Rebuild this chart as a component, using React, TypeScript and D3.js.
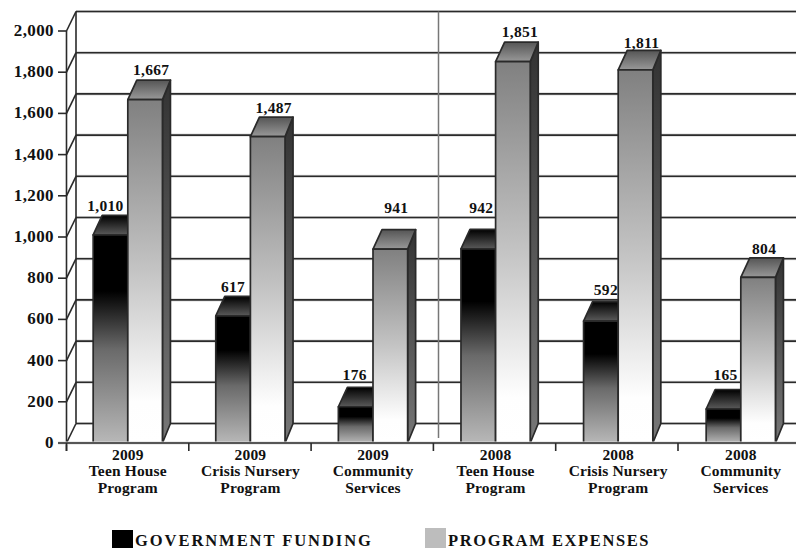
import React from "react";
import * as d3 from "d3";

const categories = ["2009|Teen House|Program", "2009|Crisis Nursery|Program", "2009|Community|Services", "2008|Teen House|Program", "2008|Crisis Nursery|Program", "2008|Community|Services"];
const governmentFunding = [1010, 617, 176, 942, 592, 165];
const programExpenses = [1667, 1487, 941, 1851, 1811, 804];
const seriesNames = ["GOVERNMENT FUNDING", "PROGRAM EXPENSES"];
const yTicks = [0, 200, 400, 600, 800, 1000, 1200, 1400, 1600, 1800, 2000];
// label shifts away from the default anchor
const govLabelShift = [[-5, 0], [0, 0], [-1, -3], [3, -12], [5, -3], [2, -6]];
const expLabelShift = [[0, -1], [0, 0], [0, -13], [1, -1], [0, 2], [0, 0]];

const W = 796, H = 548;
const x0 = 66.5, yBase = 443, yTop = 31, dx = 8, dy = 19.5, wallDx = 9.5;
const font = "'Liberation Serif', serif";
const ink = "#2a2a2a";

export default function App() {
  const y = d3.scaleLinear().domain([0, 2000]).range([yBase, yTop]);
  const gx = d3.scaleBand<number>().domain(d3.range(6)).range([x0, x0 + 122.6 * 6]);
  const bx = d3.scaleBand<number>().domain([0, 1]).range([0, gx.bandwidth()]).paddingInner(0).paddingOuter(0.77);
  const bw = bx.bandwidth();
  const line = d3.line();
  const fmt = d3.format(",");
  const halo = { stroke: "#dcdcdc", strokeWidth: 3.2 };

  const bar = (v: number, i: number, s: number) => {
    const l = gx(i)! + bx(s)!, r = l + bw, t = y(v), b = yBase;
    const front = `f${s}`, top = `t${s}`;
    const poly = (p: [number, number][]) => line(p)! + "Z";
    return (
      <g key={`${s}-${i}`} stroke={ink} strokeWidth={1.7} strokeLinejoin="round">
        <path d={poly([[r, b], [r + dx, b - dy], [r + dx, t - dy], [r, t]])} fill={`url(#side${s})`} />
        <path d={poly([[l, t], [l + dx + 1, t - dy], [r + dx, t - dy], [r, t]])} fill={`url(#${top})`} />
        <rect x={l} y={t} width={bw} height={b - t} fill={`url(#${front})`} />
      </g>
    );
  };

  return (
    <svg width={W} height={H} style={{ position: "absolute", left: 0, top: 0, background: "#fff" }} fontFamily={font} fontWeight={700} fill="#111">
      <defs>
        <linearGradient id="f0" x1="0" y1="0" x2="0" y2="1">
          <stop offset="0" stopColor="#000" />
          <stop offset="0.27" stopColor="#000" />
          <stop offset="0.55" stopColor="#6a6a6a" />
          <stop offset="1" stopColor="#b8b8b8" />
        </linearGradient>
        <linearGradient id="f1" x1="0" y1="0" x2="0" y2="1">
          <stop offset="0" stopColor="#808080" />
          <stop offset="0.5" stopColor="#c4c4c4" />
          <stop offset="0.88" stopColor="#fefefe" />
          <stop offset="1" stopColor="#fff" />
        </linearGradient>
        <linearGradient id="t0" x1="0" y1="0" x2="0" y2="1">
          <stop offset="0" stopColor="#000" />
          <stop offset="1" stopColor="#5a5a5a" />
        </linearGradient>
        <linearGradient id="t1" x1="0" y1="0" x2="0" y2="1">
          <stop offset="0" stopColor="#555" />
          <stop offset="1" stopColor="#999" />
        </linearGradient>
        <linearGradient id="side0" x1="0" y1="0" x2="0" y2="1">
          <stop offset="0" stopColor="#000" />
          <stop offset="1" stopColor="#666" />
        </linearGradient>
        <linearGradient id="side1" x1="0" y1="0" x2="0" y2="1">
          <stop offset="0" stopColor="#333" />
          <stop offset="1" stopColor="#777" />
        </linearGradient>
      </defs>

      {/* walls */}
      {yTicks.map((t) => (
        <g key={t}>
          <line x1={x0 + wallDx} x2={W} y1={y(t) - dy} y2={y(t) - dy} {...halo} />
          <line x1={x0 + wallDx} x2={W} y1={y(t) - dy} y2={y(t) - dy} stroke={ink} strokeWidth={1.6} />
          <line x1={x0} y1={y(t)} x2={x0 + wallDx} y2={y(t) - dy} stroke={ink} strokeWidth={1.6} />
          <line x1={58} x2={x0} y1={y(t)} y2={y(t)} stroke={ink} strokeWidth={1.6} />
          <text x={54} y={y(t) + 5} textAnchor="end" fontSize={17} letterSpacing={0.4}>{fmt(t)}</text>
        </g>
      ))}
      <line x1={x0} x2={x0} y1={yTop} y2={yBase + 8} stroke={ink} strokeWidth={1.6} />
      <line x1={x0 + wallDx} x2={x0 + wallDx} y1={yTop - dy} y2={yBase - dy} stroke={ink} strokeWidth={1.6} />
      <line x1={438.5} x2={438.5} y1={yTop - dy} y2={438} stroke="#777" strokeWidth={1.5} />

      {/* bars */}
      {governmentFunding.map((v, i) => bar(v, i, 0))}
      {programExpenses.map((v, i) => bar(v, i, 1))}

      {/* baseline and ticks */}
      <line x1={58} x2={W} y1={yBase} y2={yBase} stroke="#dcdcdc" strokeWidth={3.2} />
      <line x1={58} x2={W} y1={yBase} y2={yBase} stroke={ink} strokeWidth={1.7} />
      {d3.range(6).map((i) => (
        <line key={i} x1={x0 + i * 122.3} x2={x0 + i * 122.3} y1={yBase} y2={yBase + 8} stroke={ink} strokeWidth={1.6} />
      ))}

      {/* value labels */}
      {governmentFunding.map((v, i) => (
        <text key={i} x={gx(i)! + bx(0)! + bw / 2 + govLabelShift[i][0]} y={y(v) - dy - 4 + govLabelShift[i][1]} textAnchor="middle" fontSize={15.5} letterSpacing={0.3}>{fmt(v)}</text>
      ))}
      {programExpenses.map((v, i) => (
        <text key={i} x={gx(i)! + bx(1)! + bw / 2 + 6 + expLabelShift[i][0]} y={y(v) - dy - 4 + expLabelShift[i][1]} textAnchor="middle" fontSize={15.5} letterSpacing={0.3}>{fmt(v)}</text>
      ))}

      {/* category labels */}
      {categories.map((c, i) => (
        <text key={c} textAnchor="middle" fontSize={15.5} letterSpacing={0.15}>
          {c.split("|").map((p, k) => (
            <tspan key={k} x={gx(i)! + bx(1)!} y={460 + k * 16.3}>{p}</tspan>
          ))}
        </text>
      ))}

      {/* legend */}
      <rect x={112} y={530} width={21} height={18} fill="#000" />
      <text x={135} y={546} fontSize={16.5} letterSpacing={1.95}>{seriesNames[0]}</text>
      <rect x={425} y={528} width={21} height={20} fill="#bdbdbd" />
      <text x={448} y={546} fontSize={16.5} letterSpacing={1.6}>{seriesNames[1]}</text>
    </svg>
  );
}
